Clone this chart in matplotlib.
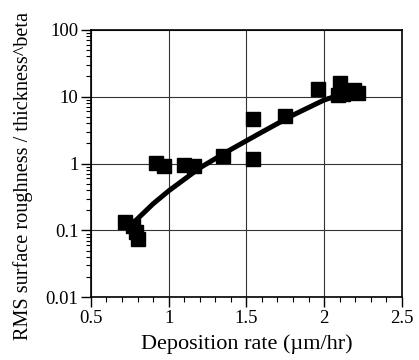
import matplotlib
matplotlib.use('Agg')
import matplotlib.pyplot as plt
from matplotlib.ticker import FixedLocator, NullFormatter, LogLocator

plt.rcParams['font.family'] = ['Liberation Serif', 'DejaVu Serif']

rate = [0.72, 0.77, 0.79, 0.80, 0.92, 0.97, 1.10, 1.16, 1.35, 1.54, 1.54,
        1.75, 1.96, 2.09, 2.10, 2.12, 2.19, 2.22]
rough = [0.135, 0.115, 0.095, 0.074, 1.02, 0.92, 0.95, 0.92, 1.3, 1.15, 4.7,
         5.1, 13.0, 10.5, 16.0, 11.0, 12.6, 11.5]

#---- fitted curve
fit_rate = [0.78, 0.9, 1.0, 1.2, 1.4, 1.6, 1.8, 2.0, 2.22]
fit_rough = [0.135, 0.25, 0.39, 0.86, 1.62, 2.95, 5.3, 8.9, 13.0]

xticks = [0.5, 1, 1.5, 2, 2.5]
xtick_labels = ['0.5', '1', '1.5', '2', '2.5']
yticks = [0.01, 0.1, 1, 10, 100]
ytick_labels = ['0.01', '0.1', '1', '10', '100']

fig = plt.figure(figsize=(4.19, 3.6), dpi=100)
ax = fig.add_axes([0.217, 0.174, 0.742, 0.7435])

ax.plot(fit_rate, fit_rough, color='black', lw=3.6, solid_capstyle='butt', zorder=3)
ax.plot(rate, rough, 's', color='black', markersize=9.5, zorder=4)

ax.set_yscale('log')
ax.set_xlim(0.5, 2.5)
ax.set_ylim(0.01, 100)

ax.set_xticks(xticks)
ax.set_xticklabels(xtick_labels)
ax.xaxis.set_minor_locator(FixedLocator([0.5 + 0.1 * i for i in range(21)]))
ax.set_yticks(yticks)
ax.set_yticklabels(ytick_labels)
ax.yaxis.set_minor_locator(LogLocator(base=10, subs=range(2, 10)))
ax.yaxis.set_minor_formatter(NullFormatter())

ax.tick_params(which='major', direction='out', length=7, width=1.0, labelsize=13.5, pad=2)
ax.tick_params(which='minor', direction='out', length=3.5, width=0.8)
ax.tick_params(top=False, right=False, which='both')

ax.grid(True, which='major', color='#333333', lw=0.8)
for s in ax.spines.values():
    s.set_linewidth(1.2)

ax.set_xlabel('Deposition rate (µm/hr)', fontsize=16, labelpad=5)
ax.set_ylabel('RMS surface roughness / thickness^beta', fontsize=14.6, labelpad=1)
ax.yaxis.set_label_coords(-0.185, 0.455)

fig.savefig('out.png', dpi=100)
